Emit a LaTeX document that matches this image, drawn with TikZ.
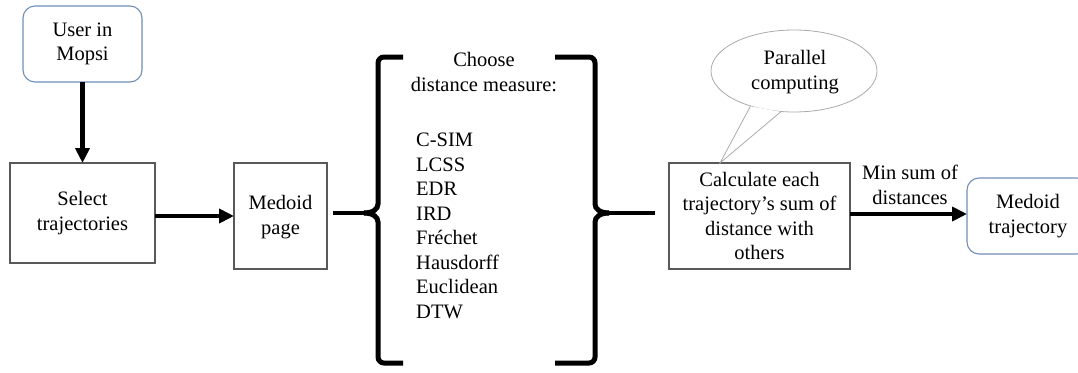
\documentclass[tikz,border=0pt]{standalone}
\usepackage{fontspec}
\setmainfont{Liberation Serif}
\usetikzlibrary{arrows.meta,shapes.geometric}

\definecolor{boxline}{HTML}{595959}
\definecolor{roundline}{HTML}{6F8FB8}
\definecolor{bubble}{HTML}{ABABAB}

\tikzset{
  txt/.style={font=\fontsize{20.5}{24.5}\selectfont, align=center, inner sep=0pt},
  plainbox/.style={draw=boxline, line width=1.1pt, fill=white},
  roundbox/.style={draw=roundline, line width=1.1pt, rounded corners=12pt, fill=white},
  flow/.style={line width=4.5pt, -{Triangle[width=14pt,length=15pt]}},
  link/.style={line width=4.5pt},
  bracket/.style={line width=5pt, rounded corners=6pt},
}

\begin{document}
\begin{tikzpicture}[x=1pt,y=-1pt]
\useasboundingbox (0,0) rectangle (1078,372);

% start and end points of the flow
\draw[roundbox] (23,6) rectangle (142,82);
\node[txt] (user) at (82.5,44) {User in\\Mopsi};
\coordinate (userS) at (82.5,82);

\draw[plainbox] (10,163) rectangle (155,263);
\node[txt] (select) at (82.5,213) {Select\\trajectories};
\coordinate (selN) at (82.5,163);
\coordinate (selE) at (155,216);

\draw[plainbox] (234,163) rectangle (327,269);
\node[txt] (medoid) at (280.5,217) {Medoid\\page};
\coordinate (medW) at (234,216);
\coordinate (medE) at (333,213);

\draw[plainbox] (669,163) rectangle (850,269);
\node[txt] (calc) at (759.5,216) {Calculate each\\trajectory’s sum of\\distance with\\others};
\coordinate (calcW) at (655,213);
\coordinate (calcE) at (850,214);
\coordinate (calcTip) at (720,163);

\draw[roundbox] (967,178) rectangle (1089,254);
\node[txt] (result) at (1028,216) {Medoid\\trajectory};
\coordinate (resW) at (967,214);

% arrows between the steps
\draw[flow] (userS) -- (selN);
\draw[flow] (selE) -- (medW);
\draw[flow] (calcE) -- (resW);
\node[txt] (minsum) at (910,185) {Min sum of\\distances};

% left brace
\coordinate (lbtip) at (364,213);
\draw[bracket] (403,57) -- (378,57) -- (378,198) .. controls (378,209) and (373,213) .. (lbtip);
\draw[bracket] (lbtip) .. controls (373,213) and (378,217) .. (378,228) -- (378,363) -- (403,363);
\draw[link] (medE) -- (lbtip);

% right brace
\coordinate (rbtip) at (609,213);
\draw[bracket] (555,57) -- (595,57) -- (595,198) .. controls (595,209) and (600,213) .. (rbtip);
\draw[bracket] (rbtip) .. controls (600,213) and (595,217) .. (595,228) -- (595,363) -- (555,363);
\draw[link] (rbtip) -- (calcW);

% list of distance measures
\node[txt] (choose) at (484,72) {Choose\\distance measure:};
\node[txt, align=left, anchor=west] (measures) at (416,226)
  {C-SIM\\LCSS\\EDR\\IRD\\Fréchet\\Hausdorff\\Euclidean\\DTW};

% speech bubble
\node[ellipse, draw=bubble, line width=0.8pt, fill=white,
      minimum width=166pt, minimum height=82pt, inner sep=0pt] (par) at (794,71) {};
\node[txt] (partxt) at (795,72) {Parallel\\computing};
\coordinate (tailA) at (par.-141);
\coordinate (tailB) at (par.-108);
\fill[white] (tailA) -- (calcTip) -- (tailB) -- cycle;
\draw[bubble, line width=0.8pt] (tailA) -- (calcTip) -- (tailB);
\end{tikzpicture}
\end{document}
